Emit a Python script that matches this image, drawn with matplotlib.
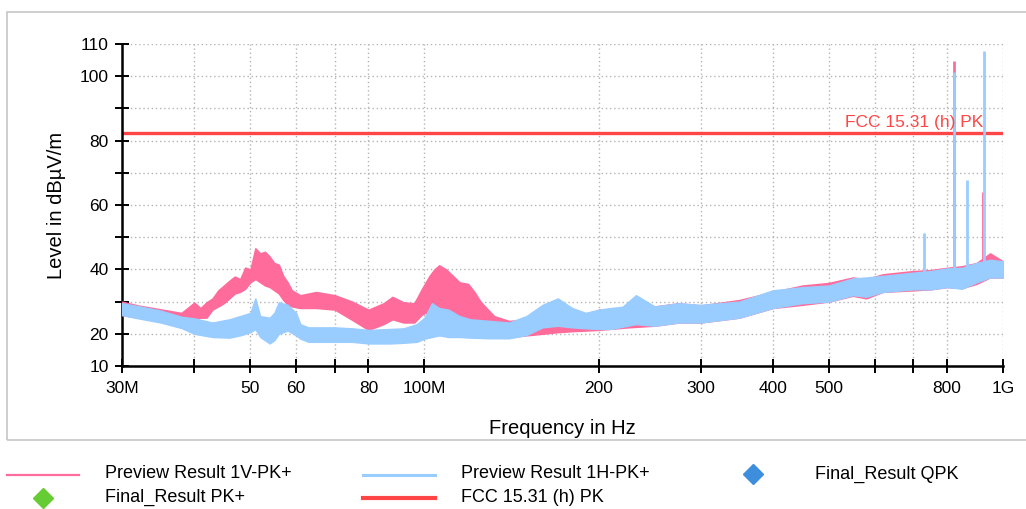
import matplotlib
matplotlib.use("Agg")
import matplotlib.pyplot as plt
from matplotlib.lines import Line2D
from matplotlib.patches import Rectangle
from matplotlib.ticker import NullLocator

plt.rcParams["font.family"] = ["Liberation Sans", "DejaVu Sans"]

# ---- axis ticks -------------------------------------------------------------
freq_ticks = [30, 40, 50, 60, 70, 80, 100, 200, 300, 400, 500, 600, 700, 800, 1000]
freq_tick_labels = ["30M", "", "50", "60", "", "80", "100M", "200", "300", "400",
                    "500", "", "", "800", "1G"]
level_ticks = [10, 20, 30, 40, 50, 60, 70, 80, 90, 100, 110]
level_tick_labels = ["10", "20", "", "40", "", "60", "", "80", "", "100", "110"]

# ---- limit line (dBµV/m) ----------------------------------------------------
limit_level = 82.4
limit_label = "FCC 15.31 (h) PK"

# ---- Preview Result 1V-PK+ : envelope of the sweep (MHz, dBµV/m) -------------
v_freq = [30, 32, 35, 38, 40, 41, 42, 43, 44, 45, 46, 47, 48, 49, 50, 51, 52, 53, 54, 55,
          56, 57, 58, 59, 61, 65, 70, 75, 80, 85, 88, 92, 96, 99, 102, 104, 106, 109, 112,
          115, 119, 122, 125, 128, 132, 140, 150, 160, 170, 180, 190, 200, 225, 250, 275,
          300, 350, 400, 450, 500, 550, 580, 620, 700, 750, 800, 850, 900, 950, 1000]
v_low = [25.8, 25.0, 23.8, 22.0, 24.6, 25.0, 25.0, 27.5, 28.5, 29.5, 31.0, 32.5, 33.0, 34.0,
         36.0, 37.0, 36.0, 35.0, 34.5, 33.5, 32.5, 30.5, 29.0, 28.5, 28.0, 28.0, 27.5, 24.3,
         21.2, 23.0, 24.5, 23.5, 23.5, 26.0, 27.0, 28.0, 27.0, 26.0, 25.0, 24.5, 24.0, 23.0,
         22.0, 21.0, 20.5, 19.0, 19.5, 20.0, 20.5, 20.8, 21.0, 21.2, 22.0, 22.5, 23.5, 23.5,
         25.0, 28.0, 29.0, 30.0, 31.8, 31.0, 33.0, 33.5, 33.8, 34.5, 34.2, 35.5, 37.5, 37.5]
v_high = [30.0, 28.8, 27.6, 26.5, 29.7, 28.0, 29.8, 31.0, 33.5, 35.0, 36.5, 37.8, 37.0, 40.6,
          40.0, 46.6, 45.0, 45.5, 44.0, 42.0, 41.5, 38.0, 36.0, 33.5, 32.0, 33.0, 32.0, 30.0,
          27.5, 29.5, 31.5, 29.8, 29.5, 34.0, 38.0, 40.0, 41.3, 40.0, 38.0, 36.0, 35.5, 33.0,
          30.0, 28.0, 25.5, 24.0, 24.5, 25.0, 25.5, 25.0, 25.5, 27.5, 28.0, 28.5, 29.5, 28.8,
          30.5, 33.0, 35.0, 35.8, 37.5, 37.0, 38.5, 39.5, 39.8, 40.5, 41.0, 42.0, 45.0, 42.5]
v_spike_freq = [824, 922]
v_spike_base = [35.0, 38.0]
v_spike_level = [104.8, 64.1]

# ---- Preview Result 1H-PK+ : envelope of the sweep (MHz, dBµV/m) -------------
h_freq = [30, 32, 35, 38, 40, 43, 46, 48, 50, 51, 52, 54, 55, 56, 58, 60, 61, 63, 70, 75,
          80, 87, 92, 97, 100, 103, 106, 110, 115, 120, 130, 140, 150, 160, 170, 180, 190,
          200, 210, 220, 232, 250, 275, 300, 350, 400, 450, 500, 550, 580, 620, 700, 750,
          800, 850, 900, 950, 1000]
h_low = [25.8, 24.8, 23.5, 21.8, 20.0, 19.0, 18.8, 19.5, 20.5, 21.5, 19.0, 17.0, 18.0, 20.0,
         21.0, 19.5, 18.5, 17.5, 17.5, 17.5, 17.0, 17.0, 17.2, 17.5, 18.5, 19.0, 19.5, 19.0,
         19.0, 18.8, 18.6, 18.6, 19.6, 22.0, 22.5, 22.0, 21.7, 21.5, 21.5, 22.2, 23.0, 22.5,
         23.5, 23.5, 25.0, 28.0, 29.5, 30.0, 32.0, 31.5, 33.0, 33.8, 33.8, 34.5, 34.0, 36.0,
         37.5, 37.5]
h_high = [29.5, 28.6, 27.2, 25.3, 24.8, 23.5, 24.5, 25.5, 26.5, 31.0, 25.5, 25.0, 26.5, 29.8,
          29.0, 26.5, 23.0, 22.0, 22.0, 21.7, 21.2, 21.5, 21.7, 23.0, 25.0, 29.5, 28.0, 27.5,
          25.5, 24.5, 24.0, 23.5, 25.5, 29.0, 31.0, 28.0, 26.5, 27.5, 28.0, 28.4, 32.0, 28.5,
          29.5, 29.0, 30.0, 33.5, 34.5, 35.0, 37.2, 37.5, 38.0, 39.0, 39.5, 40.3, 40.5, 42.0,
          43.0, 42.5]
h_spike_freq = [729, 824, 866, 928]
h_spike_base = [38.0, 39.0, 39.0, 40.0]
h_spike_level = [51.3, 101.4, 67.8, 107.9]

# ---- colours ----------------------------------------------------------------
PINK = "#ff6b9b"
BLUE = "#99ccff"
RED = "#ff4545"
QPK_BLUE = "#3d8fdd"
PK_GREEN = "#66cc33"

W, H = 1026, 509
fig = plt.figure(figsize=(W / 100, H / 100), dpi=100)

# light frame around the chart area
fig.add_artist(Rectangle((7 / W, 69 / H), 1.1, 428 / H, transform=fig.transFigure,
                         fill=False, ec="#c6c6c6", lw=1.2))

ax = fig.add_axes([122 / W, 143 / H, 881 / W, 322 / H])
ax.set_xscale("log")
ax.set_xlim(30, 1000)
ax.set_ylim(10, 110)

ax.hlines(limit_level, 30, 1000, color=RED, lw=2.4, zorder=2)
ax.annotate(limit_label, xy=(1000, limit_level), xytext=(-14.5, 4.2),
            textcoords="offset points", ha="right", va="baseline",
            color=RED, fontsize=12.5, zorder=5)

ax.fill_between(v_freq, v_low, v_high, color=PINK, lw=1.0, zorder=3)
ax.vlines(v_spike_freq, v_spike_base, v_spike_level, color=PINK, lw=2.0, zorder=3)
ax.fill_between(h_freq, h_low, h_high, color=BLUE, lw=1.0, zorder=4)
ax.vlines(h_spike_freq, h_spike_base, h_spike_level, color=BLUE, lw=2.0, zorder=4)

ax.set_xticks(freq_ticks)
ax.set_xticklabels(freq_tick_labels)
ax.xaxis.set_minor_locator(NullLocator())
ax.set_yticks(level_ticks)
ax.set_yticklabels(level_tick_labels)

ax.tick_params(axis="both", direction="inout", length=9.4, width=1.4, color="black",
               labelsize=12.5)
ax.tick_params(axis="x", pad=6)
ax.tick_params(axis="y", pad=5)

for side in ("top", "right"):
    ax.spines[side].set_visible(False)
for side in ("left", "bottom"):
    ax.spines[side].set_linewidth(1.8)

ax.grid(True, which="major", ls=(0, (1, 2)), color="#b4b4b4", lw=1.0, zorder=0)
ax.set_axisbelow(True)

ax.set_xlabel("Frequency in Hz", fontsize=14.5)
ax.xaxis.set_label_coords(0.5, -0.165)
ax.set_ylabel("Level in dBµV/m", fontsize=14.5)
ax.yaxis.set_label_coords(-0.064, 0.5)


# ---- legend, laid out row by row ------------------------------------------
def legend_line(x0, x1, y, color, lw):
    fig.add_artist(Line2D([x0 / W, x1 / W], [1 - y / H, 1 - y / H],
                          transform=fig.transFigure, color=color, lw=lw))


def legend_diamond(x, y, color):
    fig.add_artist(Line2D([x / W], [1 - y / H], transform=fig.transFigure, marker="D",
                          ms=10, color=color, mec=color, ls="none"))


def legend_text(x, y, s):
    fig.text(x / W, 1 - y / H, s, ha="left", va="center", fontsize=13)


legend_line(7, 79, 475, PINK, 1.6)
legend_text(105, 474, "Preview Result 1V-PK+")
legend_line(363, 435, 475, BLUE, 2.2)
legend_text(461, 474, "Preview Result 1H-PK+")
legend_diamond(753, 474, QPK_BLUE)
legend_text(815, 474, "Final_Result QPK")
legend_diamond(43, 498, PK_GREEN)
legend_text(105, 497, "Final_Result PK+")
legend_line(363, 435, 498, RED, 3.0)
legend_text(461, 497, "FCC 15.31 (h) PK")

fig.savefig("out.png", dpi=100)
